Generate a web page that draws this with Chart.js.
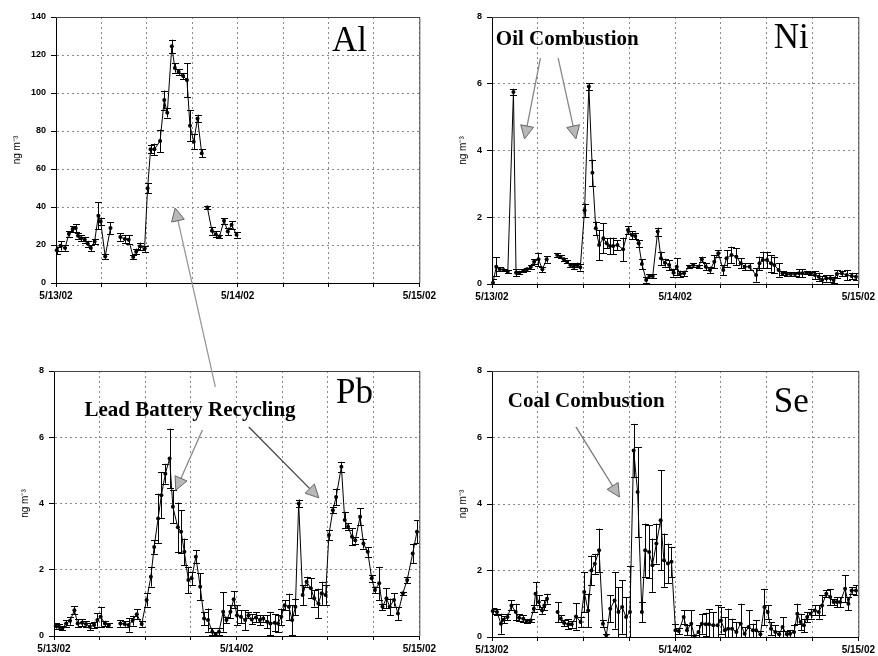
<!DOCTYPE html>
<html><head><meta charset="utf-8">
<script src="https://cdn.jsdelivr.net/npm/chart.js@4.4.1/dist/chart.umd.min.js"></script>
<style>
html,body{margin:0;padding:0;background:#fff;}
#page{position:relative;width:878px;height:656px;overflow:hidden;background:#fff;}
.w{position:absolute;}
.w canvas{display:block;}
#overlay{position:absolute;left:0;top:0;z-index:5;pointer-events:none;}
</style></head><body>
<div id="page">
<div class="w" id="wAl" style="left:0;top:0"><canvas id="cAl" width="439" height="310" style="width:439px;height:310px"></canvas></div>
<div class="w" id="wNi" style="left:439px;top:0"><canvas id="cNi" width="439" height="310" style="width:439px;height:310px"></canvas></div>
<div class="w" id="wPb" style="left:0;top:328px"><canvas id="cPb" width="439" height="328" style="width:439px;height:328px"></canvas></div>
<div class="w" id="wSe" style="left:439px;top:328px"><canvas id="cSe" width="439" height="328" style="width:439px;height:328px"></canvas></div>
<canvas id="overlay" width="878" height="656"></canvas>
</div>
<script>
// ---------- data (x = hours after 5/13/02 00:00; null = gap) ----------
const dateLabels = ['5/13/02', '5/14/02', '5/15/02'];
const yTitle = 'ng m\u207B\u00B3';

const alHours  = [0.1,0.6,1.2,1.7,2.2,2.6,2.9,3.3,3.8,4.2,4.6,5.1,5.6,5.9,6.5,7.2,7.8,8.5,9.1,9.6,10.2,10.6,11.1,11.7,12.1,12.5,13.0,13.75,14.3,14.7,15.3,15.7,16.2,16.8,17.3,17.7,18.2,18.7,19.25,19.6,20.0,20.6,21.1,21.6,22.2,22.7,23.2,23.85];
const alValues = [17.2,19.6,18.4,25.9,28.4,28.9,24.9,23.6,22.8,20.7,18.4,21.9,35.4,32.4,14.0,28.9,null,24.2,23.1,22.8,13.7,16.6,19.3,17.9,49.9,70.4,70.4,74.7,96.3,89.6,124.6,113.2,111.1,108.9,106.8,82.8,74.4,86.6,68.3,null,39.7,27.5,25.7,24.5,32.7,27.1,30.6,25.4];
const alErrors = [2,2.5,1.5,1.5,1.5,2,1.5,1.5,1.5,1.5,1.5,1.5,7,2,1.5,3,0,2,2,2.5,1,1.5,2,1.5,2.5,2,3,6,5,2.5,3.5,2.5,1.5,1.5,9,8,4,2,2,0,1,2,1.5,1,1.5,2,2,1.5];

const niHours  = [0.13,0.56,0.99,1.51,2.07,2.81,3.15,3.58,4.10,4.57,5.09,5.52,6.09,6.60,7.16,7.8,8.55,8.98,9.41,9.84,10.27,10.70,11.14,11.57,12.13,12.69,13.16,13.60,14.03,14.59,15.02,15.45,15.88,16.44,17.18,17.82,18.34,18.77,19.21,19.64,20.20,20.63,21.06,21.71,22.14,22.66,23.22,23.78,24.21,24.64,25.16,25.81,26.37,27.06,27.49,28.01,28.57,29.13,29.65,30.30,30.73,31.38,32.02,32.59,33.10,33.75,34.61,35.05,35.48,36.04,36.56,36.99,37.55,38.07,38.63,39.15,39.71,40.22,40.66,41.22,41.74,42.30,42.81,43.25,43.81,44.32,44.76,45.19,45.84,46.48,47.13,47.69];
const niValues = [0.04,0.52,0.45,0.42,0.37,5.75,0.34,0.34,0.40,0.44,0.52,0.67,0.74,0.44,0.74,null,0.87,0.82,0.74,0.67,0.57,0.52,0.57,0.50,2.21,5.92,3.33,1.67,1.17,1.37,1.22,1.14,1.14,1.17,1.04,1.62,1.47,1.44,1.22,0.60,0.12,0.24,0.24,1.57,0.77,0.64,0.57,0.34,0.52,0.30,0.32,0.52,0.57,0.52,0.74,0.52,0.42,0.67,0.92,0.42,0.77,0.87,0.82,0.62,0.52,0.52,0.27,0.62,0.72,0.72,0.62,0.57,0.42,0.32,0.30,0.30,0.30,0.32,0.32,0.34,0.32,0.27,0.22,0.12,0.17,0.17,0.12,0.30,0.32,0.27,0.24,0.22];
const niErrors = [0.1,0.28,0.05,0.04,0.04,0.1,0.1,0.05,0.05,0.05,0.06,0.08,0.2,0.08,0.1,0,0.06,0.05,0.05,0.05,0.06,0.08,0.07,0.1,0.2,0.1,0.4,0.2,0.45,0.45,0.15,0.25,0.25,0.15,0.35,0.12,0.12,0.1,0.1,0.15,0.08,0.06,0.06,0.12,0.2,0.12,0.15,0.12,0.25,0.1,0.08,0.05,0.05,0.05,0.08,0.1,0.1,0.2,0.1,0.15,0.25,0.25,0.25,0.15,0.1,0.1,0.2,0.2,0.25,0.25,0.25,0.25,0.2,0.06,0.05,0.05,0.05,0.12,0.12,0.05,0.05,0.12,0.12,0.12,0.1,0.1,0.1,0.12,0.08,0.15,0.1,0.1];

const pbHours  = [0.22,0.65,1.08,1.60,2.11,2.68,3.11,3.67,4.19,4.70,5.27,5.70,6.13,6.69,7.21,7.9,8.72,9.28,9.80,10.32,10.88,11.52,12.17,12.73,13.16,13.68,14.11,14.63,15.19,15.62,16.27,16.70,17.13,17.65,18.08,18.64,19.21,19.72,20.24,20.80,21.23,21.67,22.23,22.66,23.18,23.61,24.04,24.56,25.12,25.55,25.98,26.54,27.06,27.49,28.01,28.44,29.00,29.43,29.87,30.30,30.86,31.29,31.72,32.15,32.67,33.19,33.75,34.18,34.74,35.17,35.69,36.12,36.64,37.07,37.76,38.20,38.63,39.15,39.58,40.22,40.66,41.22,41.74,42.17,42.73,43.16,43.68,44.11,44.67,45.19,45.84,46.40,47.13,47.69];
const pbValues = [0.30,0.28,0.23,0.38,0.46,0.78,0.38,0.40,0.36,0.28,0.33,0.48,0.58,0.38,0.33,null,0.38,0.36,0.33,0.46,0.66,0.36,1.09,1.79,2.69,3.55,4.25,4.90,5.36,3.90,3.28,3.15,2.54,1.69,1.74,2.39,1.49,0.53,0.48,0.13,0.06,0.13,0.73,0.48,0.73,1.11,0.63,0.58,0.48,0.63,0.50,0.56,0.48,0.53,0.43,0.38,0.40,0.38,0.58,0.93,0.88,0.48,0.88,4.00,1.24,1.64,1.44,1.14,0.98,1.29,1.24,3.05,3.80,4.20,5.11,3.50,3.30,3.00,2.89,3.60,2.79,2.54,1.74,1.39,1.59,0.88,1.14,0.88,1.09,0.68,1.29,1.69,2.49,3.15];
const pbErrors = [0.08,0.08,0.06,0.1,0.12,0.12,0.12,0.1,0.08,0.1,0.1,0.2,0.3,0.08,0.05,0,0.1,0.08,0.2,0.15,0.15,0.08,0.2,0.3,0.2,0.75,0.7,0.3,0.9,0.5,0.75,0.65,0.4,0.4,0.2,0.2,0.4,0.2,0.35,0.1,0.05,0.1,0.6,0.1,0.2,0.25,0.3,0.2,0.3,0.1,0.15,0.15,0.15,0.1,0.2,0.35,0.25,0.25,0.25,0.15,0.4,0.45,0.25,0.12,0.3,0.15,0.3,0.25,0.45,0.35,0.3,0.15,0.1,0.25,0.15,0.25,0.1,0.25,0.1,0.25,0.15,0.15,0.1,0.1,0.5,0.1,0.3,0.25,0.2,0.2,0.05,0.1,0.3,0.35];

const seHours  = [0.09,0.65,1.17,1.51,2.03,2.55,3.11,3.54,4.10,4.53,5.05,5.48,5.70,6.13,6.56,6.86,7.21,7.8,8.59,9.02,9.45,10.01,10.44,11.01,11.61,12.08,12.60,13.03,13.47,14.03,14.54,14.98,15.49,16.06,16.57,17.05,17.57,18.08,18.56,19.08,19.64,20.07,20.59,21.02,21.54,22.10,22.53,23.05,23.52,24.04,24.47,25.12,25.55,26.11,26.54,27.06,27.49,28.01,28.44,29.00,29.56,29.99,30.51,30.95,31.46,32.02,32.59,33.10,33.62,34.18,34.61,35.17,35.69,36.12,36.56,37.12,37.63,38.07,38.63,39.06,39.58,40.01,40.44,40.87,41.30,41.74,42.30,42.81,43.25,43.81,44.32,44.76,45.19,45.62,46.27,46.70,47.13,47.69];
const seValues = [0.78,0.75,0.40,0.52,0.60,0.95,0.75,0.58,0.55,0.48,0.50,0.85,1.30,1.05,0.80,0.95,1.15,null,0.75,0.55,0.42,0.38,0.38,0.62,0.45,1.35,0.80,2.00,2.20,2.61,0.40,0.05,0.85,1.10,0.75,0.90,0.60,0.75,5.61,4.36,0.75,2.61,2.56,2.16,2.81,3.51,2.31,2.21,2.26,0.20,0.18,0.60,0.20,0.40,0.02,0.15,0.40,0.38,0.38,0.35,0.35,0.50,0.20,0.25,0.25,0.15,0.40,0.10,0.30,0.20,0.20,0.08,0.90,0.75,0.25,0.15,0.08,0.30,0.08,0.10,0.15,0.70,0.45,0.35,0.60,0.70,0.80,0.75,0.95,1.30,1.20,1.05,1.05,1.05,1.45,1.00,1.40,1.40];
const seErrors = [0.08,0.1,0.3,0.1,0.1,0.15,0.25,0.1,0.1,0.05,0.05,0.1,0.35,0.2,0.1,0.15,0.15,0,0.3,0.1,0.1,0.15,0.1,0.4,0.15,0.6,0.5,0.45,0.3,0.65,0.1,0.05,0.4,0.85,0.75,0.8,0.6,1.4,0.8,1.35,0.3,0.8,0.8,0.8,0.6,1.5,0.8,0.6,0.45,0.2,0.1,0.2,0.15,0.4,0.05,0.2,0.3,0.35,0.45,0.4,0.6,0.4,0.4,0.6,0.3,0.3,0.6,0.2,0.5,0.2,0.3,0.1,0.55,0.2,0.2,0.2,0.1,0.3,0.1,0.1,0.2,0.3,0.25,0.2,0.15,0.15,0.15,0.2,0.3,0.1,0.25,0.1,0.15,0.15,0.4,0.2,0.1,0.15];

// ---------- annotations ----------
const panelNames = {Al: 'Al', Ni: 'Ni', Pb: 'Pb', Se: 'Se'};
const notes = {
  Ni: 'Oil Combustion',
  Pb: 'Lead Battery Recycling',
  Se: 'Coal Combustion'
};

// ---------- chart builder ----------
function buildChart(id, hours, values, errors, yMax, yStep, layout) {
  const pts = hours.map((h, i) => ({x: h, y: values[i]}));
  const errorBars = {
    id: 'errorBars' + id,
    afterDatasetsDraw(chart) {
      const {ctx, chartArea: a} = chart;
      const xs = chart.scales.x, ys = chart.scales.y;
      ctx.save();
      ctx.beginPath(); ctx.rect(a.left, a.top - 2, a.right - a.left, a.bottom - a.top + 2); ctx.clip();
      ctx.strokeStyle = '#000'; ctx.lineWidth = 1;
      hours.forEach((h, i) => {
        const v = values[i], e = errors[i];
        if (v === null || !e) return;
        const px = Math.round(xs.getPixelForValue(h)) + 0.5;
        const y1 = ys.getPixelForValue(v + e), y2 = ys.getPixelForValue(v - e);
        ctx.beginPath();
        ctx.moveTo(px, y1); ctx.lineTo(px, y2);
        ctx.moveTo(px - 3.5, Math.round(y1) + 0.5); ctx.lineTo(px + 3.5, Math.round(y1) + 0.5);
        ctx.moveTo(px - 3.5, Math.round(y2) + 0.5); ctx.lineTo(px + 3.5, Math.round(y2) + 0.5);
        ctx.stroke();
      });
      ctx.restore();
    }
  };
  const frame = {
    id: 'frame' + id,
    afterDraw(chart) {
      const {ctx, chartArea: a} = chart;
      const xs = chart.scales.x, ys = chart.scales.y;
      ctx.save();
      ctx.strokeStyle = '#444'; ctx.lineWidth = 1;
      ctx.beginPath();
      ctx.moveTo(a.left, a.top + 0.5); ctx.lineTo(a.right + 0.5, a.top + 0.5); ctx.lineTo(a.right + 0.5, a.bottom);
      ctx.stroke();
      // panel element label
      ctx.fillStyle = '#000';
      ctx.font = '35px "Liberation Serif", "Times New Roman", serif';
      ctx.textAlign = 'right'; ctx.textBaseline = 'alphabetic';
      ctx.fillText(panelNames[id], xs.getPixelForValue(layout.nameX), ys.getPixelForValue(layout.nameY));
      if (notes[id]) {
        ctx.font = 'bold 21px "Liberation Serif", "Times New Roman", serif';
        ctx.textAlign = 'left';
        ctx.fillText(notes[id], xs.getPixelForValue(layout.noteX), ys.getPixelForValue(layout.noteY));
      }
      ctx.restore();
    }
  };
  return new Chart(document.getElementById('c' + id), {
    type: 'line',
    data: {datasets: [{
      data: pts,
      borderColor: '#000', borderWidth: 1,
      pointRadius: 2, pointBackgroundColor: '#000', pointBorderColor: '#000', pointBorderWidth: 0,
      tension: 0, spanGaps: false, clip: 4
    }]},
    options: {
      responsive: false, animation: false, devicePixelRatio: 1,
      layout: {padding: layout.padding},
      plugins: {legend: {display: false}, tooltip: {enabled: false}},
      scales: {
        x: {
          type: 'linear', min: 0, max: 48,
          afterFit(s) { s.height = layout.xh; },
          ticks: {
            stepSize: 6, autoSkip: false, maxRotation: 0, padding: 3,
            color: '#000', font: {family: '"Liberation Sans", Arial, sans-serif', size: 10, weight: 'bold'},
            callback: v => (v % 24 === 0 ? dateLabels[v / 24] : '')
          },
          grid: {color: '#888', lineWidth: 1, tickLength: 4, tickColor: '#000', tickBorderDash: []},
          border: {display: true, color: '#000', width: 1, dash: [2, 3]}
        },
        y: {
          min: 0, max: yMax,
          afterFit(s) { s.width = layout.yw; },
          ticks: {
            stepSize: yStep, padding: 5, color: '#000',
            font: {family: '"Liberation Sans", Arial, sans-serif', size: 9, weight: 'bold'}
          },
          title: {
            display: true, text: yTitle, color: '#000',
            font: {family: '"Liberation Sans", Arial, sans-serif', size: 10},
            padding: {top: layout.tpad, bottom: 0}
          },
          grid: {color: '#888', lineWidth: 1, tickLength: 5, tickColor: '#000', tickBorderDash: []},
          border: {display: true, color: '#000', width: 1, dash: [2, 3]}
        }
      }
    },
    plugins: [errorBars, frame]
  });
}

const charts = {
  Al: buildChart('Al', alHours, alValues, alErrors, 140, 20,
    {padding: {top: 17, right: 14, left: 0, bottom: 0}, yw: 56, xh: 27, tpad: 11, nameX: 41.1, nameY: 122}),
  Ni: buildChart('Ni', niHours, niValues, niErrors, 8, 2,
    {padding: {top: 17, right: 15, left: 0, bottom: 0}, yw: 53, xh: 26, tpad: 18, nameX: 41.5, nameY: 7.07, noteX: 0.5, noteY: 7.16}),
  Pb: buildChart('Pb', pbHours, pbValues, pbErrors, 8, 2,
    {padding: {top: 43, right: 14, left: 0, bottom: 0}, yw: 54, xh: 20, tpad: 19, nameX: 41.9, nameY: 7.03, noteX: 4.0, noteY: 6.64}),
  Se: buildChart('Se', seHours, seValues, seErrors, 8, 2,
    {padding: {top: 43, right: 15, left: 0, bottom: 0}, yw: 53, xh: 19, tpad: 18, nameX: 41.5, nameY: 6.77, noteX: 2.07, noteY: 6.92})
};

// ---------- arrows (data coordinates of the named panel) ----------
const arrows = [
  {from: ['Ni', 6.34, 6.77], to: ['Ni', 4.27, 4.35], color: '#888'},
  {from: ['Ni', 8.67, 6.77], to: ['Ni', 11.0, 4.35], color: '#888'},
  {from: ['Pb', 19.5, 6.22], to: ['Pb', 16.0, 4.4], color: '#888'},
  {from: ['Pb', 25.6, 6.31], to: ['Pb', 34.8, 4.17], color: '#444'},
  {from: ['Se', 11.0, 6.32], to: ['Se', 16.7, 4.21], color: '#777'},
  {from: ['Pb', 21.2, 7.52], to: ['Al', 15.74, 39.5], color: '#999'}
];

function pagePoint(ref) {
  const ch = charts[ref[0]];
  const w = document.getElementById('w' + ref[0]);
  return [w.offsetLeft + ch.scales.x.getPixelForValue(ref[1]),
          w.offsetTop + ch.scales.y.getPixelForValue(ref[2])];
}

(function drawArrows() {
  const ctx = document.getElementById('overlay').getContext('2d');
  arrows.forEach(a => {
    const [x1, y1] = pagePoint(a.from);
    const [x2, y2] = pagePoint(a.to);
    const ang = Math.atan2(y2 - y1, x2 - x1);
    const L = 13, W = 6.5;
    const bx = x2 - L * Math.cos(ang), by = y2 - L * Math.sin(ang);
    ctx.save();
    ctx.strokeStyle = a.color; ctx.lineWidth = 1.3;
    ctx.beginPath(); ctx.moveTo(x1, y1); ctx.lineTo(bx, by); ctx.stroke();
    ctx.beginPath();
    ctx.moveTo(x2, y2);
    ctx.lineTo(bx + W * Math.sin(ang), by - W * Math.cos(ang));
    ctx.lineTo(bx - W * Math.sin(ang), by + W * Math.cos(ang));
    ctx.closePath();
    ctx.fillStyle = '#b8b8b8'; ctx.fill();
    ctx.strokeStyle = '#666'; ctx.lineWidth = 1; ctx.stroke();
    ctx.restore();
  });
})();
</script>
</body></html>
